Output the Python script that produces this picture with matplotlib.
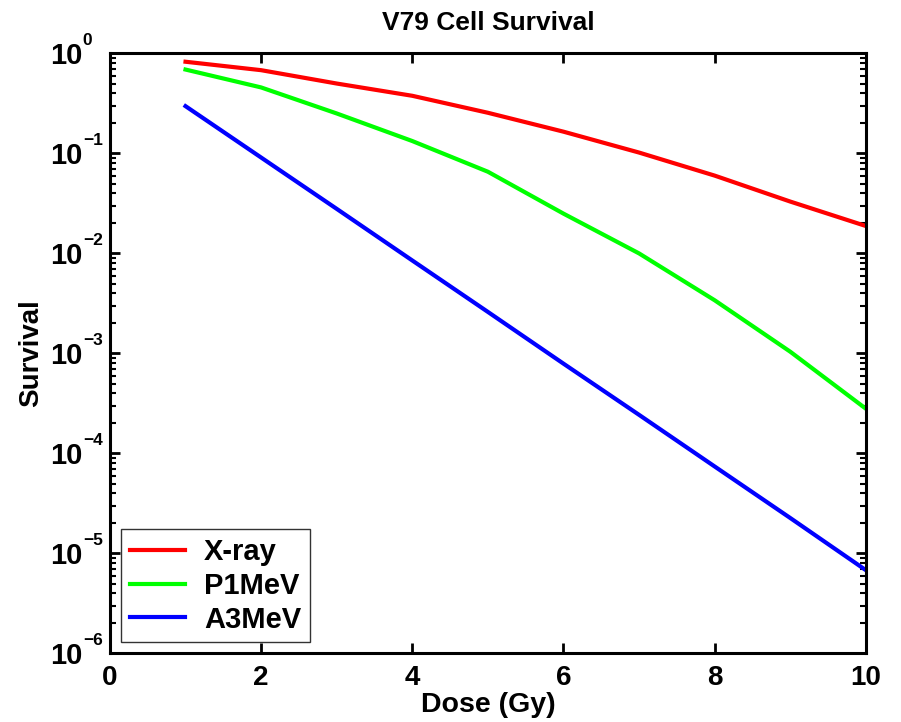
import numpy as np
import matplotlib
matplotlib.use('Agg')
import matplotlib.pyplot as plt
from matplotlib.ticker import LogLocator, FixedLocator

# data
dose = [1, 2, 3, 4, 5, 6, 7, 8, 9, 10]
xray = [0.826, 0.68, 0.50, 0.377, 0.255, 0.165, 0.102, 0.060, 0.033, 0.0188]
p1mev = [0.69, 0.457, 0.251, 0.133, 0.0656, 0.025, 0.010, 0.0034, 0.00104, 0.00028]
a3mev = [0.297, 0.091, 0.0279, 0.0085, 0.0026, 0.00079, 0.000243, 7.4e-5, 2.26e-5, 6.8e-6]
labels = ['X-ray', 'P1MeV', 'A3MeV']
colors = ['#ff0000', '#00ff00', '#0000ff']
xticks = [0, 2, 4, 6, 8, 10]
yexp = [-6, -5, -4, -3, -2, -1, 0]

plt.rcParams['font.family'] = ['Liberation Sans', 'DejaVu Sans']
plt.rcParams['font.weight'] = 'bold'

fig = plt.figure(figsize=(9.01, 7.22), dpi=100)
ax = fig.add_axes([0.122, 0.095, 0.839, 0.831])

for ys, lab, c in zip([xray, p1mev, a3mev], labels, colors):
    ax.semilogy(dose, ys, '-', color=c, lw=3, label=lab)

ax.set_xlim(0, 10)
ax.set_ylim(1e-6, 1)
ax.set_xticks(xticks)
ax.set_xticklabels([str(v) for v in xticks], fontsize=20, fontweight='bold')
yt = [10.0 ** e for e in yexp]
ax.yaxis.set_major_locator(FixedLocator(yt))
ax.yaxis.set_minor_locator(LogLocator(base=10, subs=np.arange(2, 10), numticks=20))
ax.set_yticklabels(['10'] * len(yt), fontsize=21, fontweight='bold')

# MATLAB-style exponents
for e, v in zip(yexp, yt):
    s = str(e).replace('-', '\u2212')
    ax.annotate(s, xy=(0, v), xycoords=('axes fraction', 'data'),
                xytext=(-19.5, 9.5), textcoords='offset points',
                ha='left', va='center', fontsize=12.5, fontweight='bold')

ax.tick_params(axis='x', pad=8)
ax.tick_params(axis='y', pad=20)
ax.tick_params(which='both', direction='in', top=True, right=True, width=2)
ax.tick_params(which='major', length=7)
ax.tick_params(which='minor', length=4, width=1.5)
for s in ax.spines.values():
    s.set_linewidth(2.2)

ax.set_title('V79 Cell Survival', fontsize=19, fontweight='bold', pad=17)
ax.set_xlabel('Dose (Gy)', fontsize=20.5, fontweight='bold', labelpad=1)
ax.set_ylabel('Survival', fontsize=20, fontweight='bold', labelpad=4)

leg = ax.legend(loc='lower left', prop={'size': 21, 'weight': 'bold'}, frameon=True,
                fancybox=False, borderaxespad=0.38, handlelength=1.9,
                handletextpad=0.65, labelspacing=0.2, borderpad=0.3)
leg.get_frame().set_edgecolor('black')
leg.get_frame().set_linewidth(1)

fig.savefig('out.png', dpi=100)
